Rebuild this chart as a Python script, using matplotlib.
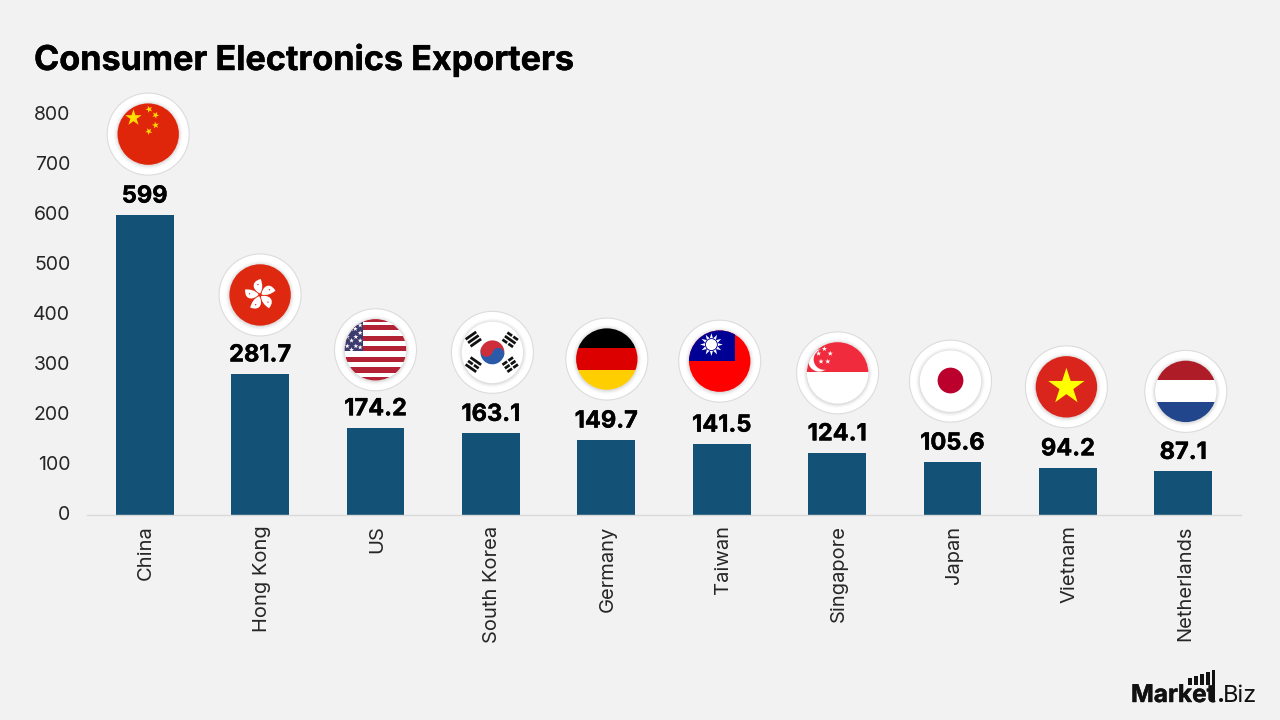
import numpy as np
import matplotlib
matplotlib.use('Agg')
import matplotlib.pyplot as plt
import matplotlib.patheffects as pe
from matplotlib.patches import Circle, Polygon, Rectangle, Wedge, PathPatch
from matplotlib.path import Path
from matplotlib.transforms import Affine2D

countries = ['China', 'Hong Kong', 'US', 'South Korea', 'Germany', 'Taiwan',
             'Singapore', 'Japan', 'Vietnam', 'Netherlands']
exports = [599, 281.7, 174.2, 163.1, 149.7, 141.5, 124.1, 105.6, 94.2, 87.1]
value_labels = ['599', '281.7', '174.2', '163.1', '149.7', '141.5', '124.1',
                '105.6', '94.2', '87.1']
y_ticks = [0, 100, 200, 300, 400, 500, 600, 700, 800]

BG = '#f2f2f2'
BAR = '#135276'
W, H = 1280, 720

# badge placement in pixels relative to the top of each bar
badge_dx = [3.5, 0, 0, 1.5, 0.5, -2, 0.5, -2, -1.5, 2.5]
badge_dy = [81, 79, 78, 81, 81, 83, 80, 81, 81, 80]
BADGE_R = 41
FLAG_R = 30.7

plt.rcParams['font.family'] = ['Inter', 'DejaVu Sans']

fig = plt.figure(figsize=(W / 100, H / 100), dpi=100, facecolor=BG)
ax = fig.add_axes([87 / W, 1 - 515 / H, (1241 - 87) / W, (515 - 114.5) / H], facecolor=BG)

x = np.arange(len(countries))
ax.bar(x, exports, width=0.5, color=BAR)
ax.set_xlim(-0.5, 9.5)
ax.set_ylim(0, 800)
ax.set_yticks(y_ticks)
ax.set_xticks(x)
ax.set_xticklabels(countries, rotation=90, fontsize=14.5, color='#262626')
ax.tick_params(axis='x', length=0, pad=7.5)
ax.tick_params(axis='y', length=0, pad=12, labelsize=14, labelcolor='#262626')
for s in ['top', 'left', 'right']:
    ax.spines[s].set_visible(False)
ax.spines['bottom'].set_color('#d9d9d9')
ax.spines['bottom'].set_linewidth(1)

# nudge tick labels a little off their default spots
for lab in ax.get_yticklabels():
    lab.set_transform(lab.get_transform() + Affine2D().translate(0, 1.5))
for lab in ax.get_xticklabels():
    lab.set_transform(lab.get_transform() + Affine2D().translate(1.5, 0))

heavy = [pe.withStroke(linewidth=0.3, foreground='black')]
for i, label in enumerate(value_labels):
    ax.annotate(label, (x[i], exports[i]), xytext=(0, 9), textcoords='offset points',
                ha='center', va='baseline', fontsize=17, fontweight='bold', color='black',
                path_effects=heavy)


def star_points(cx, cy, r, rot=0, n=5, inner=0.382):
    ang = np.pi / 2 + np.radians(rot) + np.arange(2 * n) * np.pi / n
    rad = np.where(np.arange(2 * n) % 2 == 0, r, r * inner)
    return np.column_stack([cx + rad * np.cos(ang), cy + rad * np.sin(ang)])


def star(cx, cy, r, color, rot=0):
    return Polygon(star_points(cx, cy, r, rot), closed=True, fc=color, ec='none')


def band(y0, y1, color):
    return Rectangle((-1.1, y0), 2.2, y1 - y0, fc=color, ec='none')


def trigram(cx, cy, angle, broken):
    # three bars of a Korean trigram, broken ones get a gap down the middle
    parts = []
    rad = np.radians(angle)
    u = np.array([np.cos(rad), np.sin(rad)])
    v = np.array([-u[1], u[0]])
    for k, off in enumerate([-0.14, 0, 0.14]):
        segs = [(-0.21, -0.025), (0.025, 0.21)] if broken[k] else [(-0.21, 0.21)]
        for a, b in segs:
            c = np.array([cx, cy]) + off * u
            pts = [c + a * v - 0.045 * u, c + b * v - 0.045 * u,
                   c + b * v + 0.045 * u, c + a * v + 0.045 * u]
            parts.append(Polygon(pts, closed=True, fc='#111111', ec='none'))
    return parts


def china():
    yellow = '#ffde00'
    return [Circle((0, 0), 1.1, fc='#e0260a', ec='none'),
            star(-0.48, 0.53, 0.28, yellow),
            star(0.03, 0.81, 0.12, yellow, 20), star(0.24, 0.62, 0.12, yellow, 45),
            star(0.24, 0.29, 0.12, yellow, 10), star(0.02, 0.09, 0.12, yellow, 30)]


def hong_kong():
    parts = [Circle((0, 0), 1.1, fc='#de2910', ec='none')]
    verts = [(0.0, 0.05), (-0.2, 0.12), (-0.36, 0.42), (0.02, 0.52),
             (0.08, 0.36), (0.1, 0.2), (0.0, 0.05)]
    codes = [Path.MOVETO, Path.CURVE4, Path.CURVE4, Path.CURVE4,
             Path.CURVE4, Path.CURVE4, Path.CURVE4]
    for k in range(5):
        rot = Affine2D().rotate_deg(-72 * k)
        parts.append(PathPatch(Path(rot.transform(np.array(verts)), codes), fc='white', ec='none'))
        spot = rot.transform([(-0.07, 0.34)])[0]
        parts.append(Circle(spot, 0.022, fc='#de2910', ec='none'))
    return parts


def usa():
    red = '#b22234'
    parts = [Circle((0, 0), 1.1, fc='white', ec='none')]
    for c in [0.98, 0.72, 0.37, 0.03, -0.31, -0.66, -0.98]:
        parts.append(band(c - 0.085, c + 0.085, red))
    parts.append(Rectangle((-1.1, -0.04), 0.7, 1.15, fc='#3c3b6e', ec='none'))
    for sx, sy in [(-0.5, 0.8), (-0.78, 0.68), (-0.5, 0.55), (-0.92, 0.42), (-0.64, 0.42),
                   (-0.78, 0.3), (-0.5, 0.3), (-0.92, 0.12), (-0.64, 0.12), (-0.5, 0.08),
                   (-0.78, -0.0), (-0.66, 0.68)]:
        parts.append(star(sx, sy, 0.085, 'white'))
    return parts


def south_korea():
    red, blue = '#cd2e3a', '#2b5aa8'
    parts = [Circle((0, 0), 1.1, fc='white', ec='none'),
             Wedge((0, 0), 0.39, -15, 165, fc=red, ec='none'),
             Wedge((0, 0), 0.39, 165, 345, fc=blue, ec='none'),
             Circle((-0.19, 0.05), 0.195, fc=red, ec='none'),
             Circle((0.19, -0.05), 0.195, fc=blue, ec='none')]
    parts += trigram(-0.62, 0.43, 125, (0, 0, 0))
    parts += trigram(0.58, 0.41, 55, (1, 0, 1))
    parts += trigram(-0.62, -0.4, 55, (0, 1, 0))
    parts += trigram(0.58, -0.4, 125, (1, 1, 1))
    return parts


def germany():
    return [band(0.36, 1.1, '#000000'), band(-0.36, 0.36, '#dd0000'), band(-1.1, -0.36, '#ffce00')]


def taiwan():
    blue = '#000095'
    return [Circle((0, 0), 1.1, fc='#fe0000', ec='none'),
            Rectangle((-1.1, 0.0), 1.61, 1.1, fc=blue, ec='none'),
            Polygon(star_points(-0.27, 0.54, 0.37, n=12, inner=0.55), closed=True, fc='white', ec='none'),
            Circle((-0.27, 0.54), 0.21, fc=blue, ec='none'),
            Circle((-0.27, 0.54), 0.18, fc='white', ec='none')]


def singapore():
    red = '#ef2b3d'
    parts = [Circle((0, 0), 1.1, fc='white', ec='none'), band(0.02, 1.1, red),
             Circle((-0.6, 0.4), 0.36, fc='white', ec='none'),
             Circle((-0.44, 0.44), 0.34, fc=red, ec='none')]
    for sx, sy in [(-0.43, 0.78), (-0.24, 0.63), (-0.32, 0.37), (-0.54, 0.37), (-0.62, 0.63)]:
        parts.append(star(sx, sy, 0.09, 'white'))
    return parts


def japan():
    return [Circle((0, 0), 1.1, fc='white', ec='none'),
            Circle((0, 0.02), 0.42, fc='#bc002d', ec='none')]


def vietnam():
    return [Circle((0, 0), 1.1, fc='#da251d', ec='none'), star(0, 0.0, 0.62, '#ffff00')]


def netherlands():
    return [band(0.36, 1.1, '#ae1c28'), band(-0.34, 0.36, '#ffffff'), band(-1.1, -0.34, '#21468b')]


flags = [china, hong_kong, usa, south_korea, germany, taiwan, singapore, japan, vietnam, netherlands]


def draw_badge(i):
    px, py = ax.transData.transform((x[i], exports[i]))
    px += badge_dx[i]
    py += badge_dy[i]

    fig.add_artist(Circle((px, py), BADGE_R, transform=None, fc='white', ec='#dcdcdc', lw=0.8, zorder=3))
    # soft shadow around the flag disc
    for k, alpha in enumerate([0.02, 0.03, 0.05, 0.08]):
        grow = 4 - k
        fig.add_artist(Circle((px, py - 0.5), FLAG_R + grow, transform=None, fc='#555555',
                              ec='none', alpha=alpha, zorder=3.1))

    tr = Affine2D().scale(FLAG_R).translate(px, py)
    clip = Circle((0, 0), 1, transform=tr)
    for part in flags[i]():
        part.set_transform(tr)
        part.set_zorder(3.2)
        fig.add_artist(part)
        part.set_clip_path(clip)


fig.canvas.draw()
for i in range(len(countries)):
    draw_badge(i)

fig.text(34 / W, 1 - 70 / H, 'Consumer Electronics Exporters', fontsize=24.6,
         fontweight='bold', color='black', ha='left', va='baseline', path_effects=heavy)

# wordmark in the bottom right corner
fig.text(1131 / W, 1 - 702 / H, 'Market', fontsize=17.6, fontweight='bold', color='#111111',
         ha='left', va='baseline', path_effects=[pe.withStroke(linewidth=0.3, foreground='#111111')])
fig.text(1217 / W, 1 - 702 / H, '.', fontsize=17.6, fontweight='bold', color='#111111',
         ha='left', va='baseline')
fig.text(1223 / W, 1 - 702 / H, 'Biz', fontsize=17, color='#111111', ha='left', va='baseline')
for bx, bw, top in [(1188, 3.5, 678), (1194, 3.5, 676), (1200, 3.5, 674), (1206, 3.5, 672), (1212, 3, 670)]:
    bottom = 685 if bx < 1212 else 700
    fig.add_artist(Rectangle((bx / W, 1 - bottom / H), bw / W, (bottom - top) / H,
                             transform=fig.transFigure, fc='#111111', ec='none'))

fig.savefig('out.png', dpi=100, facecolor=BG)
